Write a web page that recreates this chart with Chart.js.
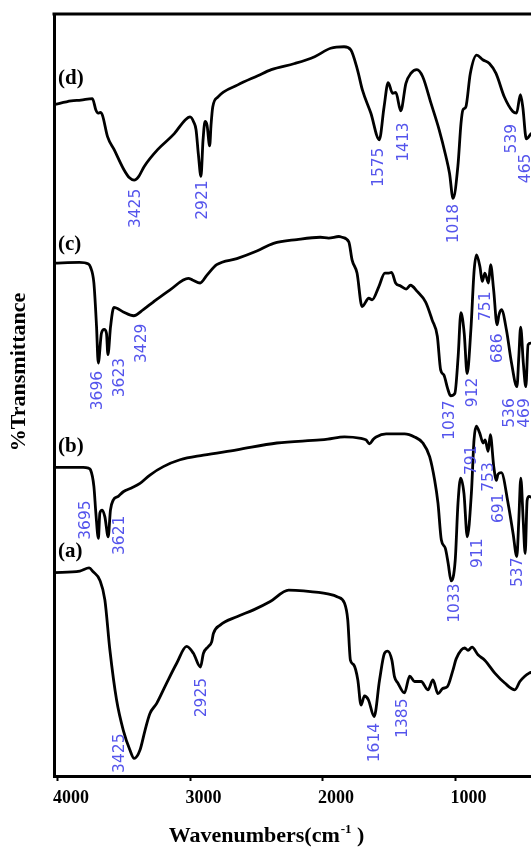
<!DOCTYPE html>
<html>
<head>
<meta charset="utf-8">
<title>FTIR spectra (a)–(d)</title>
<script src="https://cdn.jsdelivr.net/npm/chart.js@4.4.1/dist/chart.umd.min.js"></script>
<style>
  html, body { margin: 0; padding: 0; background: #ffffff; overflow: hidden; }
  canvas { display: block; }
</style>
</head>
<body>
<canvas id="ftir" width="531" height="849"></canvas>
<script>
// ---- Spectra: wavenumber (cm-1) and offset transmittance (arbitrary %T units) ----
const wavenumbersD = [4030, 3900, 3827, 3740, 3714, 3696, 3680, 3664, 3626, 3576, 3500, 3460, 3425, 3390, 3349, 3248, 3122, 3040, 3003, 2975, 2958, 2940, 2921, 2905, 2890, 2875, 2855, 2845, 2832, 2794, 2643, 2492, 2390, 2214, 2063, 1942, 1841, 1790, 1740, 1702, 1639, 1575, 1539, 1508, 1475, 1450, 1413, 1374, 1337, 1291, 1248, 1185, 1123, 1072, 1045, 1018, 982, 958, 944, 922, 888, 840, 794, 744, 694, 631, 567, 539, 510, 492, 465, 430];
const transmittanceD = [88.1, 88.6, 88.7, 88.9, 87.4, 87.0, 87.1, 86.7, 83.9, 82.2, 79.5, 78.5, 78.2, 78.7, 80.0, 82.2, 84.3, 86.1, 86.5, 85.8, 84.8, 81.5, 78.7, 83.5, 85.9, 85.4, 82.7, 85.4, 87.8, 89.1, 90.7, 91.9, 92.7, 93.5, 94.4, 95.5, 95.7, 95.3, 92.7, 90.0, 87.0, 83.5, 87.8, 91.0, 89.6, 89.7, 87.3, 90.9, 92.2, 92.7, 91.8, 88.3, 84.8, 81.3, 79.1, 75.8, 80.0, 85.7, 87.4, 87.8, 92.2, 94.6, 94.0, 93.5, 92.2, 89.1, 87.2, 87.0, 89.4, 87.8, 83.6, 84.3];

const wavenumbersC = [4030, 3839, 3770, 3755, 3729, 3709, 3696, 3672, 3651, 3634, 3623, 3603, 3578, 3507, 3429, 3356, 3281, 3154, 3016, 2985, 2927, 2877, 2802, 2650, 2499, 2373, 2197, 2020, 1957, 1880, 1856, 1805, 1780, 1743, 1705, 1654, 1629, 1579, 1533, 1503, 1482, 1452, 1414, 1372, 1339, 1289, 1225, 1175, 1137, 1112, 1087, 1060, 1037, 1005, 980, 959, 934, 912, 884, 859, 841, 815, 798, 778, 751, 735, 712, 686, 672, 653, 615, 577, 536, 522, 508, 488, 469, 452, 430];
const transmittanceC = [67.3, 67.4, 67.2, 66.8, 64.7, 59.0, 54.2, 58.1, 58.6, 58.1, 55.3, 59.0, 61.5, 60.9, 60.4, 61.2, 62.2, 63.8, 65.3, 65.1, 64.7, 65.7, 67.1, 67.9, 68.9, 69.9, 70.4, 70.7, 70.6, 70.8, 70.7, 70.1, 67.7, 66.0, 61.6, 62.7, 62.5, 64.2, 66.0, 66.0, 66.1, 64.7, 64.3, 63.9, 64.4, 63.6, 62.2, 59.8, 57.7, 53.3, 52.6, 50.9, 49.9, 50.2, 55.0, 60.8, 58.1, 52.8, 58.5, 66.4, 68.4, 66.8, 64.9, 66.0, 64.7, 67.1, 63.8, 59.2, 60.5, 61.2, 58.5, 54.2, 51.1, 55.0, 58.9, 54.2, 51.1, 56.6, 56.8];

const wavenumbersB = [4030, 3810, 3770, 3755, 3729, 3714, 3695, 3684, 3666, 3646, 3621, 3604, 3583, 3545, 3507, 3445, 3381, 3306, 3205, 3079, 2902, 2650, 2348, 2020, 1964, 1838, 1713, 1675, 1649, 1620, 1599, 1523, 1384, 1309, 1246, 1195, 1157, 1132, 1107, 1077, 1055, 1033, 1002, 981, 961, 936, 911, 880, 860, 843, 817, 791, 776, 753, 737, 711, 691, 679, 654, 603, 565, 537, 522, 507, 489, 474, 459, 444, 430];
const transmittanceB = [40.5, 40.5, 40.4, 40.2, 38.0, 34.5, 31.2, 34.5, 34.9, 34.0, 31.4, 34.9, 36.2, 36.7, 37.3, 37.8, 38.4, 39.5, 40.6, 41.5, 42.1, 42.8, 43.7, 44.1, 44.2, 44.5, 44.3, 44.1, 43.6, 44.2, 44.5, 44.9, 44.9, 44.5, 43.7, 41.9, 38.8, 35.8, 31.0, 29.9, 27.9, 25.6, 28.3, 35.8, 39.1, 37.1, 31.4, 37.1, 44.1, 45.9, 45.0, 43.7, 44.1, 42.6, 44.8, 40.6, 38.8, 39.6, 39.8, 35.8, 31.8, 28.8, 33.6, 39.1, 33.6, 29.2, 36.2, 36.7, 36.6];

const wavenumbersA = [4030, 3835, 3765, 3734, 3684, 3646, 3608, 3558, 3507, 3457, 3425, 3381, 3343, 3306, 3256, 3180, 3104, 3029, 2978, 2925, 2902, 2865, 2840, 2827, 2776, 2650, 2524, 2398, 2259, 2146, 1964, 1889, 1838, 1813, 1793, 1768, 1737, 1713, 1687, 1657, 1614, 1573, 1536, 1511, 1480, 1460, 1435, 1385, 1346, 1309, 1259, 1208, 1170, 1132, 1095, 1062, 1019, 994, 930, 905, 875, 830, 779, 703, 628, 552, 514, 477, 444, 430];
const transmittanceA = [26.7, 26.9, 27.3, 26.8, 25.7, 23.1, 16.5, 10.0, 6.0, 3.4, 2.3, 3.4, 6.0, 8.2, 9.5, 12.2, 14.8, 17.0, 16.1, 14.3, 16.1, 17.0, 17.6, 18.7, 19.8, 20.9, 21.8, 22.9, 24.4, 24.3, 23.9, 23.5, 22.7, 20.5, 15.2, 14.6, 12.6, 9.3, 10.5, 10.0, 7.8, 12.6, 16.1, 16.4, 15.2, 13.0, 12.2, 10.9, 13.1, 12.4, 12.4, 11.3, 12.6, 10.8, 11.5, 11.7, 13.9, 15.4, 16.8, 16.5, 16.9, 15.9, 15.2, 13.5, 12.2, 11.3, 12.4, 13.1, 13.5, 13.6];

// ---- Band assignments printed beside each spectrum (cm-1) ----
const peaksD = [3425, 2921, 1575, 1413, 1018, 539, 465];
const peaksC = [3696, 3623, 3429, 1037, 912, 751, 686, 536, 469];
const peaksB = [3695, 3621, 1033, 911, 791, 753, 691, 537];
const peaksA = [3425, 2925, 1614, 1385];

const xTickValues = [4000, 3000, 2000, 1000];
const curveNames = ['(a)', '(b)', '(c)', '(d)'];

// ---- Where the band numbers sit, in axis units [wavenumber, %T at text start] ----
const tagSpotsD = [[3415, 71.9], [2909, 73.0], [1577, 77.3], [1389, 80.6], [1011, 69.9], [570, 81.7], [468, 77.8]];
const tagSpotsC = [[3698, 48.0], [3532, 49.7], [3366, 54.2], [1041, 44.1], [868, 48.4], [770, 59.7], [683, 54.2], [589, 45.7], [472, 45.7]];
const tagSpotsB = [[3788, 31.0], [3532, 29.0], [1004, 20.1], [834, 27.3], [875, 39.5], [747, 37.3], [672, 33.2], [532, 24.8]];
const tagSpotsA = [[3532, 0.4], [2913, 7.7], [1607, 1.8], [1396, 5.0]];
const nameSpots = [[4000, 29.4], [4000, 43.2], [4000, 69.7], [4000, 91.5]];

const tagColor = 'rgb(84, 84, 236)';
const serif = '"Liberation Serif", "Times New Roman", serif';

function toPoints(xs, ys) {
  return xs.map((x, i) => ({ x: x, y: ys[i] }));
}

function spectrum(xs, ys) {
  return {
    data: toPoints(xs, ys),
    borderColor: '#000000',
    borderWidth: 2.8,
    pointRadius: 0,
    fill: false,
    cubicInterpolationMode: 'monotone',
    borderJoinStyle: 'round',
    borderCapStyle: 'round'
  };
}

// Closes the frame along the top edge of the plot area
const topEdge = {
  id: 'topEdge',
  afterDatasetsDraw(chart) {
    const { ctx, chartArea: a } = chart;
    ctx.save();
    ctx.strokeStyle = '#000000';
    ctx.lineWidth = 3;
    ctx.beginPath();
    ctx.moveTo(a.left - 1.5, a.top);
    ctx.lineTo(a.right, a.top);
    ctx.stroke();
    ctx.restore();
  }
};

// Band numbers, curve names and axis titles
const annotations = {
  id: 'annotations',
  afterDraw(chart) {
    const { ctx } = chart;
    const xs = chart.scales.x, ys = chart.scales.y;

    ctx.save();
    ctx.fillStyle = tagColor;
    ctx.font = '15.5px "DejaVu Sans", sans-serif';
    ctx.textAlign = 'left';
    ctx.textBaseline = 'middle';
    const groups = [[peaksD, tagSpotsD], [peaksC, tagSpotsC], [peaksB, tagSpotsB], [peaksA, tagSpotsA]];
    groups.forEach(([peaks, spots]) => {
      peaks.forEach((p, i) => {
        const px = xs.getPixelForValue(spots[i][0]);
        const py = ys.getPixelForValue(spots[i][1]);
        ctx.save();
        ctx.translate(px, py);
        ctx.rotate(-Math.PI / 2);
        ctx.fillText(String(p), 0, 0);
        ctx.restore();
      });
    });
    ctx.restore();

    ctx.save();
    ctx.fillStyle = '#000000';
    ctx.font = 'bold 21px ' + serif;
    ctx.textAlign = 'left';
    ctx.textBaseline = 'middle';
    curveNames.forEach((name, i) => {
      ctx.fillText(name, xs.getPixelForValue(nameSpots[i][0]), ys.getPixelForValue(nameSpots[i][1]));
    });
    ctx.restore();

    // y title
    ctx.save();
    ctx.fillStyle = '#000000';
    ctx.font = 'bold 22px ' + serif;
    ctx.textAlign = 'center';
    ctx.textBaseline = 'middle';
    ctx.translate(19, 372);
    ctx.rotate(-Math.PI / 2);
    ctx.fillText('%Transmittance', 0, 0);
    ctx.restore();

    // x title with superscript
    ctx.save();
    ctx.fillStyle = '#000000';
    ctx.textBaseline = 'alphabetic';
    ctx.textAlign = 'left';
    const big = 'bold 22px ' + serif, small = 'bold 13px ' + serif;
    const part1 = 'Wavenumbers(cm', sup = '-1', part2 = ' )';
    ctx.font = big; const w1 = ctx.measureText(part1).width; const w3 = ctx.measureText(part2).width;
    ctx.font = small; const w2 = ctx.measureText(sup).width;
    let tx = 266 - (w1 + w2 + w3) / 2;
    const base = 842;
    ctx.font = big; ctx.fillText(part1, tx, base); tx += w1;
    ctx.font = small; ctx.fillText(sup, tx + 1, base - 9); tx += w2 + 1;
    ctx.font = big; ctx.fillText(part2, tx, base);
    ctx.restore();
  }
};

new Chart(document.getElementById('ftir'), {
  type: 'line',
  data: {
    datasets: [
      spectrum(wavenumbersA, transmittanceA),
      spectrum(wavenumbersB, transmittanceB),
      spectrum(wavenumbersC, transmittanceC),
      spectrum(wavenumbersD, transmittanceD)
    ]
  },
  options: {
    responsive: false,
    animation: false,
    devicePixelRatio: 1,
    layout: { padding: { top: 14, right: 0, bottom: 0, left: 0 } },
    plugins: { legend: { display: false }, tooltip: { enabled: false } },
    scales: {
      x: {
        type: 'linear',
        reverse: true,
        min: 430,
        max: 4030,
        afterBuildTicks: (s) => { s.ticks = xTickValues.map(v => ({ value: v })); },
        afterFit: (s) => { s.height = 73; s.paddingLeft = 0; s.paddingRight = 0; },
        grid: { display: true, drawOnChartArea: false, drawTicks: true, tickLength: 5, tickWidth: 2, tickColor: '#000000' },
        border: { display: true, width: 3, color: '#000000' },
        ticks: {
          autoSkip: false,
          maxRotation: 0,
          padding: 7,
          labelOffset: 13,
          color: '#000000',
          font: { family: serif, size: 18, weight: 'bold' },
          callback: (v) => String(v)
        }
      },
      y: {
        min: 0,
        max: 100,
        afterFit: (s) => { s.width = 54; },
        grid: { display: false },
        border: { display: true, width: 3, color: '#000000' },
        ticks: { display: false }
      }
    }
  },
  plugins: [topEdge, annotations]
});
</script>
</body>
</html>
